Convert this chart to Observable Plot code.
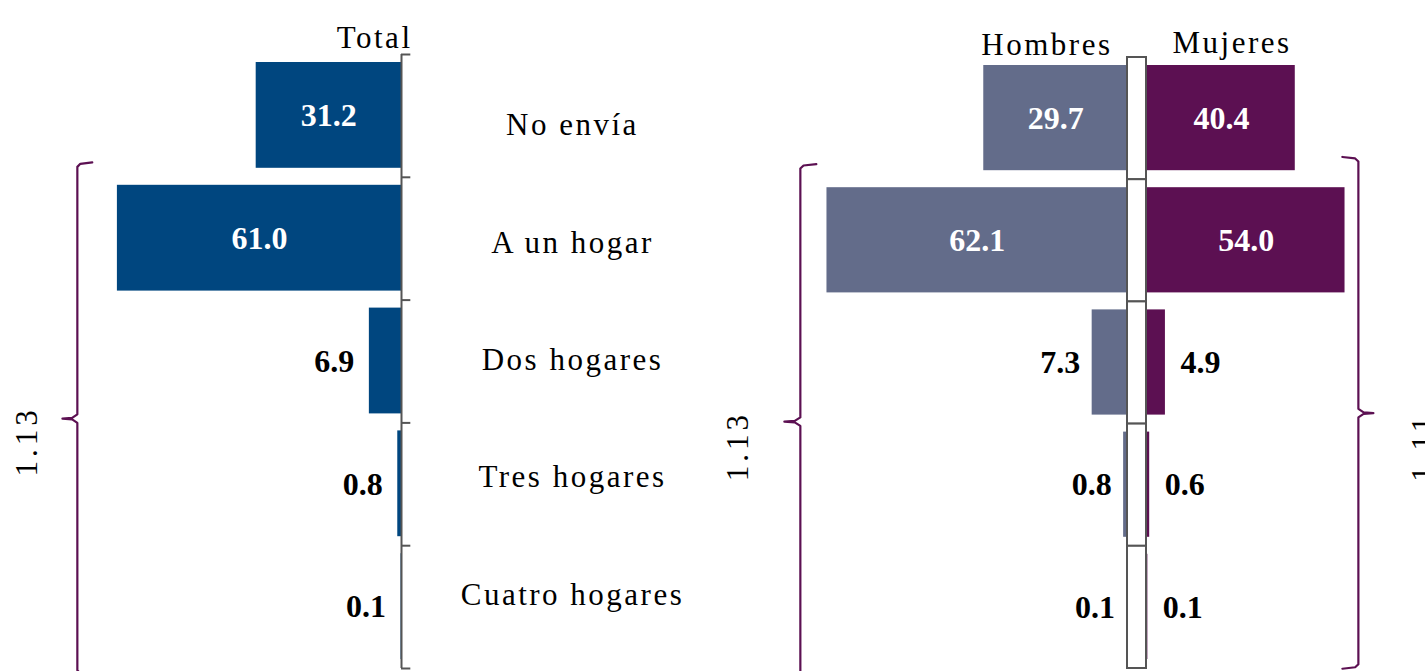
<!DOCTYPE html>
<html>
<head>
<meta charset="utf-8">
<script src="https://cdn.jsdelivr.net/npm/d3@7"></script>
<script src="https://cdn.jsdelivr.net/npm/@observablehq/plot@0.6"></script>
<style>
  body { margin: 0; background: #fff; }
  #chart { position: relative; width: 1425px; height: 671px; overflow: hidden; background: #fff; }
  .panel { position: absolute; top: 0; }
  #chart svg text { letter-spacing: 2.5px; }
  #chart svg g[font-weight="bold"] text { letter-spacing: 0; }
  #chart svg text[transform*="rotate"] { letter-spacing: 4px; }
</style>
</head>
<body>
<div id="chart"></div>
<script>
// ---- data ----
const categories = ["No envía", "A un hogar", "Dos hogares", "Tres hogares", "Cuatro hogares"];
const totalValues = [31.2, 61.0, 6.9, 0.8, 0.1];
const hombresValues = [29.7, 62.1, 7.3, 0.8, 0.1];
const mujeresValues = [40.4, 54.0, 4.9, 0.6, 0.1];
const panelTitles = ["Total", "Hombres", "Mujeres"];
const averageLabels = ["1.13", "1.13", "1.11"]; // promedio de hogares receptores (Total, Hombres, Mujeres)

// ---- styling ----
const FONT = "'Liberation Serif', 'Times New Roman', serif";
const H = 671;
const C_TOTAL = "#00467F", C_HOM = "#636C8A", C_MUJ = "#5C1052", C_BRACE = "#5C1052", C_AXIS = "#555555";
const chart = document.getElementById("chart");

const rowsOf = vals => categories.map((cat, i) => ({cat, i, i1: i + 1, mid: i + 0.5, v: vals[i]}));
const fmt = d => d.v.toFixed(1);

function place(svg, left) {
  const div = document.createElement("div");
  div.className = "panel";
  div.style.left = left + "px";
  div.appendChild(svg);
  chart.appendChild(div);
}

// brace path in data units of the panel
function brace(xb, y1, y2, ym, hook, cusp) {
  return [
    [xb + hook, y1 - 0.012], [xb + hook * 0.2, y1], [xb, y1 + 0.025],
    [xb, ym - 0.035], [xb + cusp * 0.35, ym - 0.006], [xb + cusp, ym],
    [xb + cusp * 0.35, ym + 0.006], [xb, ym + 0.035],
    [xb, y2 - 0.025], [xb + hook * 0.2, y2], [xb + hook, y2 + 0.012]
  ];
}

function valueMarks(rows, color, outsideAnchor, outsideDx) {
  return [
    Plot.rect(rows, {x1: 0, x2: "v", y1: "i", y2: "i1", insetTop: 8, insetBottom: 9, fill: color}),
    Plot.text(rows.filter(d => d.v >= 20), {x: d => d.v / 2, y: "mid", text: fmt, fill: "white",
      fontSize: 32, fontWeight: "bold"}),
    Plot.text(rows.filter(d => d.v < 20), {x: "v", y: "mid", text: fmt, fill: "black",
      fontSize: 32, fontWeight: "bold", textAnchor: outsideAnchor, dx: outsideDx})
  ];
}

const baseStyle = {fontFamily: FONT, overflow: "visible", background: "transparent", color: "black"};

// ---- Total panel ----
const rowsT = rowsOf(totalValues);
place(Plot.plot({
  width: 401, height: H, marginLeft: 0, marginRight: 0, marginTop: 54, marginBottom: 3,
  style: baseStyle,
  x: {domain: [0, 86.1], reverse: true, axis: null},
  y: {domain: [0, 5], reverse: true, axis: null},
  marks: [
    ...valueMarks(rowsT, C_TOTAL, "end", -15),
    Plot.ruleX([0], {y1: 0, y2: 5, stroke: C_AXIS, strokeWidth: 2}),
    Plot.ruleY(d3.range(categories.length + 1), {y: d => d, x1: 0, x2: -2, stroke: C_AXIS, strokeWidth: 2}),
    Plot.line(brace(69.6, 0.89, 5.04, 2.965, -3.2, 3.2), {x: d => d[0], y: d => d[1], stroke: C_BRACE, strokeWidth: 2.2}),
    Plot.text([averageLabels[0]], {x: 80.3, y: 3.15, text: d => d, rotate: -90, fontSize: 31}),
    Plot.text([panelTitles[0]], {frameAnchor: "top-right", text: d => d, textAnchor: "end", dx: 11, dy: -29, fontSize: 31})
  ]
}), 0);

// ---- category labels ----
place(Plot.plot({
  width: 342, height: H, marginLeft: 0, marginRight: 0, marginTop: 66, marginBottom: 18,
  style: baseStyle,
  x: {domain: [0, 1], axis: null},
  y: {domain: [0, 5], reverse: true, axis: null},
  marks: [
    Plot.text(rowsT, {x: 0.5, y: "mid", text: "cat", fontSize: 31})
  ]
}), 401);

// ---- Hombres panel ----
const rowsH = rowsOf(hombresValues);
place(Plot.plot({
  width: 407, height: H, marginLeft: 0, marginRight: 0, marginTop: 57, marginBottom: 3,
  style: baseStyle,
  x: {domain: [0, 84.1], reverse: true, axis: null},
  y: {domain: [0, 5], reverse: true, axis: null},
  marks: [
    ...valueMarks(rowsH, C_HOM, "end", -12),
    Plot.line(brace(67.6, 0.884, 5.07, 2.98, -3.3, 3.3), {x: d => d[0], y: d => d[1], stroke: C_BRACE, strokeWidth: 2.2}),
    Plot.text([averageLabels[1]], {x: 80.4, y: 3.18, text: d => d, rotate: -90, fontSize: 31}),
    Plot.text([panelTitles[1]], {frameAnchor: "top-right", text: d => d, textAnchor: "end", dx: -15, dy: -25, fontSize: 31})
  ]
}), 720);

// ---- centre box ----
place(Plot.plot({
  width: 19, height: H, marginLeft: 0, marginRight: 0, marginTop: 57, marginBottom: 3,
  style: baseStyle,
  x: {domain: [0, 1], axis: null},
  y: {domain: [0, 5], reverse: true, axis: null},
  marks: [
    Plot.rect(rowsH, {x1: 0, x2: 1, y1: "i", y2: "i1", fill: "white", stroke: C_AXIS, strokeWidth: 2})
  ]
}), 1127);

// ---- Mujeres panel ----
const rowsM = rowsOf(mujeresValues);
place(Plot.plot({
  width: 278, height: H, marginLeft: 0, marginRight: 0, marginTop: 57, marginBottom: 3,
  style: baseStyle,
  x: {domain: [0, 76], axis: null},
  y: {domain: [0, 5], reverse: true, axis: null},
  marks: [
    ...valueMarks(rowsM, C_MUJ, "start", 15),
    Plot.line(brace(57.65, 0.826, 4.99, 2.91, -4.37, 4.1), {x: d => d[0], y: d => d[1], stroke: C_BRACE, strokeWidth: 2.2}),
    Plot.text([averageLabels[2]], {x: 75.4, y: 3.19, text: d => d, rotate: -90, fontSize: 31}),
    Plot.text([panelTitles[2]], {frameAnchor: "top-left", text: d => d, textAnchor: "start", dx: 25, dy: -27, fontSize: 31})
  ]
}), 1147);
</script>
</body>
</html>
